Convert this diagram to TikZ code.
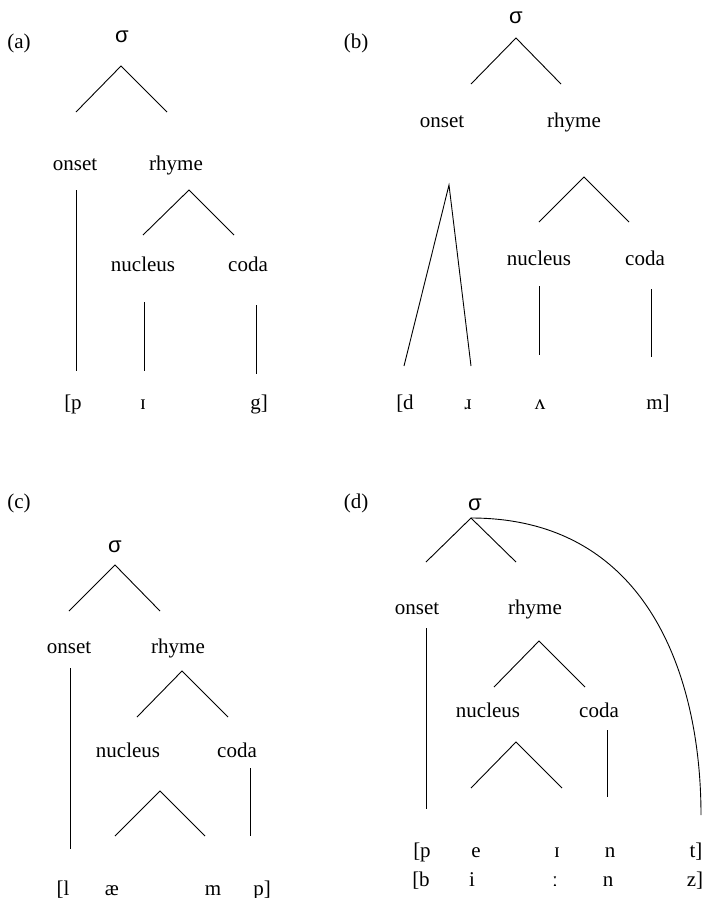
\documentclass[tikz,border=0pt]{standalone}
\usepackage{fontspec}
\setmainfont{Liberation Serif}
\newfontfamily\sigfont{Liberation Sans}
\begin{document}
\begin{tikzpicture}[x=1pt,y=-1pt,
  txt/.style={anchor=base,inner sep=0pt,font=\fontsize{21}{25}\selectfont},
  sig/.style={anchor=base,inner sep=0pt,font=\sigfont\fontsize{22}{26}\selectfont},
  ln/.style={line width=0.9pt}]
\fill[white] (0,0) rectangle (706,898);
\useasboundingbox (0,0) rectangle (706,898);
% ---------- (a)
\node[txt] (a-lab) at (19,48) {(a)};
\node[sig] (a-s) at (122,42) {σ};
\node[txt] (a-on) at (75,170) {onset};
\node[txt] (a-rh) at (176,170) {rhyme};
\node[txt] (a-nu) at (143,271) {nucleus};
\node[txt] (a-co) at (248,271) {coda};
\node[txt] (a-p) at (73,409) {[p};
\node[txt] (a-i) at (143,409) {ɪ};
\node[txt] (a-g) at (259,409) {g]};
\coordinate (a-s1) at (121,66); \coordinate (a-s2) at (76,112); \coordinate (a-s3) at (167,112);
\coordinate (a-o1) at (76,190); \coordinate (a-o2) at (76,371);
\coordinate (a-r1) at (189,190); \coordinate (a-r2) at (143,235); \coordinate (a-r3) at (234,235);
\coordinate (a-n1) at (144,302); \coordinate (a-n2) at (144,371);
\coordinate (a-c1) at (256,305); \coordinate (a-c2) at (256,374);
\draw[ln] (a-s2) -- (a-s1) -- (a-s3);
\draw[ln] (a-o1) -- (a-o2);
\draw[ln] (a-r2) -- (a-r1) -- (a-r3);
\draw[ln] (a-n1) -- (a-n2);
\draw[ln] (a-c1) -- (a-c2);
% ---------- (b)
\node[txt] (b-lab) at (356,48) {(b)};
\node[sig] (b-s) at (516,23) {σ};
\node[txt] (b-on) at (442,127) {onset};
\node[txt] (b-rh) at (574,127) {rhyme};
\node[txt] (b-nu) at (539,265) {nucleus};
\node[txt] (b-co) at (645,265) {coda};
\node[txt] (b-d) at (405,409) {[d};
\node[txt] (b-r) at (468,409) {ɹ};
\node[txt] (b-v) at (540,409) {ʌ};
\node[txt] (b-m) at (658,409) {m]};
\coordinate (b-s1) at (516,38); \coordinate (b-s2) at (471,84); \coordinate (b-s3) at (561,84);
\coordinate (b-o1) at (449,185); \coordinate (b-o2) at (404,366); \coordinate (b-o3) at (471,366);
\coordinate (b-r1) at (584,177); \coordinate (b-r2) at (539,222); \coordinate (b-r3) at (629,222);
\coordinate (b-n1) at (539,286); \coordinate (b-n2) at (539,355);
\coordinate (b-c1) at (651,289); \coordinate (b-c2) at (651,357);
\draw[ln] (b-s2) -- (b-s1) -- (b-s3);
\draw[ln] (b-o2) -- (b-o1) -- (b-o3);
\draw[ln] (b-r2) -- (b-r1) -- (b-r3);
\draw[ln] (b-n1) -- (b-n2);
\draw[ln] (b-c1) -- (b-c2);
% ---------- (c)
\node[txt] (c-lab) at (19,508) {(c)};
\node[sig] (c-s) at (115,552) {σ};
\node[txt] (c-on) at (69,653) {onset};
\node[txt] (c-rh) at (178,653) {rhyme};
\node[txt] (c-nu) at (128,757) {nucleus};
\node[txt] (c-co) at (237,757) {coda};
\node[txt] (c-l) at (63,895) {[l};
\node[txt] (c-ae) at (112,895) {æ};
\node[txt] (c-m) at (213,895) {m};
\node[txt] (c-p) at (262,895) {p]};
\coordinate (c-s1) at (115,565); \coordinate (c-s2) at (69,611); \coordinate (c-s3) at (160,611);
\coordinate (c-o1) at (70,668); \coordinate (c-o2) at (70,849);
\coordinate (c-r1) at (182,671); \coordinate (c-r2) at (137,717); \coordinate (c-r3) at (228,717);
\coordinate (c-n1) at (160,791); \coordinate (c-n2) at (115,836); \coordinate (c-n3) at (205,836);
\coordinate (c-c1) at (250,768); \coordinate (c-c2) at (250,836);
\draw[ln] (c-s2) -- (c-s1) -- (c-s3);
\draw[ln] (c-o1) -- (c-o2);
\draw[ln] (c-r2) -- (c-r1) -- (c-r3);
\draw[ln] (c-n2) -- (c-n1) -- (c-n3);
\draw[ln] (c-c1) -- (c-c2);
% ---------- (d)
\node[txt] (d-lab) at (356,508) {(d)};
\node[sig] (d-s) at (475,510) {σ};
\node[txt] (d-on) at (417,614) {onset};
\node[txt] (d-rh) at (535,614) {rhyme};
\node[txt] (d-nu) at (488,717) {nucleus};
\node[txt] (d-co) at (599,717) {coda};
\node[txt] (d-p) at (422,857) {[p};
\node[txt] (d-e) at (476,857) {e};
\node[txt] (d-i1) at (557,857) {ɪ};
\node[txt] (d-n1) at (610,857) {n};
\node[txt] (d-t) at (696,857) {t]};
\node[txt] (d-b) at (421,886) {[b};
\node[txt] (d-i2) at (472,886) {i};
\node[txt] (d-len) at (555,886) {ː};
\node[txt] (d-n2) at (608,886) {n};
\node[txt] (d-z) at (695,886) {z]};
\coordinate (d-s1) at (471,518); \coordinate (d-s2) at (426,562); \coordinate (d-s3) at (516,562);
\coordinate (d-t1) at (701,815);
\coordinate (d-o1) at (426,628); \coordinate (d-o2) at (426,809);
\coordinate (d-r1) at (539,641); \coordinate (d-r2) at (494,687); \coordinate (d-r3) at (585,687);
\coordinate (d-n1) at (516,742); \coordinate (d-n2) at (471,788); \coordinate (d-n3) at (562,788);
\coordinate (d-c1) at (607,730); \coordinate (d-c2) at (607,797);
\draw[ln] (d-s2) -- (d-s1) -- (d-s3);
\draw[ln] (d-s1) .. controls (650,518) and (701,680) .. (d-t1);
\draw[ln] (d-o1) -- (d-o2);
\draw[ln] (d-r2) -- (d-r1) -- (d-r3);
\draw[ln] (d-n2) -- (d-n1) -- (d-n3);
\draw[ln] (d-c1) -- (d-c2);
\end{tikzpicture}
\end{document}
